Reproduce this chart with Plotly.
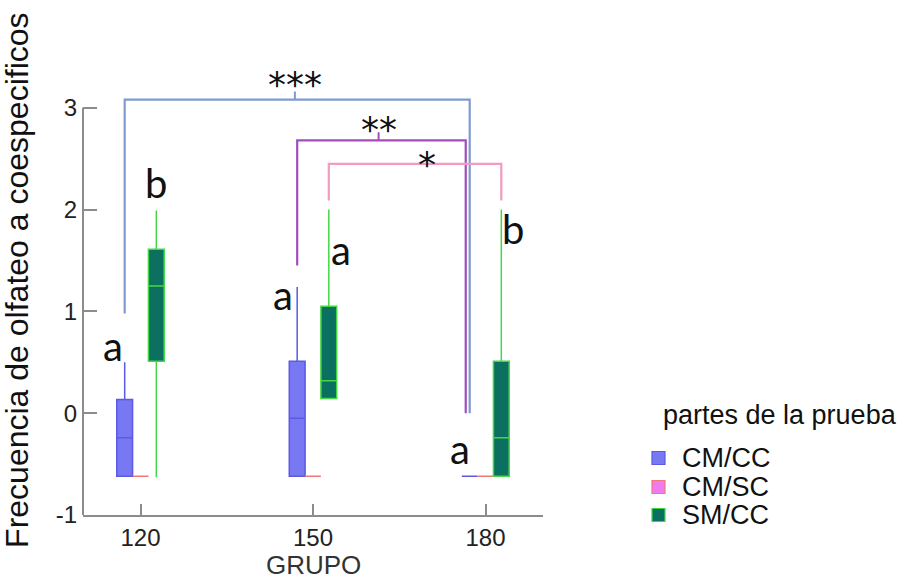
import plotly.graph_objects as go

# Grupos de edad (eje x) y partes de la prueba
grupos = [120, 150, 180]
partes = ["CM/CC", "CM/SC", "SM/CC"]
ticks_y = [-1, 0, 1, 2, 3]
etiquetas_y = ["-1", "0", "1", "2", "3"]

# Estadísticos de cada caja: [120, 150, 180]
cmcc_q1 = [-0.62, -0.62, -0.62]
cmcc_med = [-0.24, -0.05, -0.62]
cmcc_q3 = [0.135, 0.51, -0.62]
cmcc_lo = [-0.62, -0.62, -0.62]
cmcc_hi = [0.50, 1.24, -0.62]

cmsc_q1 = [-0.62, -0.62, -0.62]
cmsc_med = [-0.62, -0.62, -0.62]
cmsc_q3 = [-0.62, -0.62, -0.62]
cmsc_lo = [-0.62, -0.62, -0.62]
cmsc_hi = [-0.62, -0.62, -0.62]

smcc_q1 = [0.51, 0.145, -0.62]
smcc_med = [1.25, 0.32, -0.24]
smcc_q3 = [1.61, 1.05, 0.51]
smcc_lo = [-0.63, 0.145, -0.62]
smcc_hi = [1.99, 2.0, 2.0]

# Letras de significación: (grupo, índice de parte, texto)
letras = [
    (120, 0, "a"), (120, 2, "b"),
    (150, 0, "a"), (150, 2, "a"),
    (180, 0, "a"), (180, 2, "b"),
]
# Colocación de cada letra respecto a su caja (desplazamiento x, altura y)
letras_pos = [(-2.1, 0.66), (0.0, 2.26), (-2.45, 1.16), (2.15, 1.60), (-1.75, -0.35), (1.95, 1.81)]

# Comparaciones: (grupo izq, parte izq, y pata izq, grupo der, parte der, y pata der, y barra, texto, color)
comparaciones = [
    (120, 0, 0.98, 180, 0, 0.0, 3.08, "***", "#7d9bd0"),
    (150, 0, 1.45, 180, -0.25, 0.0, 2.68, "**", "#a24dbb"),
    (150, 2, 2.09, 180, 2, 2.09, 2.45, "*", "#f29ac0"),
]
# Colocación de los asteriscos respecto al centro de la barra (dx, dy)
estrellas_pos = [(-0.4, 0.15), (-0.5, 0.11), (2.1, -0.01)]

colores_relleno = ["#7878f2", "#f07af0", "#0b7060"]
colores_linea = ["#5a5ae6", "#f07878", "#44d844"]

YMIN, YMAX = -1.0, 3.45
XMIN, XMAX = 110, 190
BOXGAP = 0.725
paso = 30 * (1 - BOXGAP) / 3  # ancho de cada hueco dentro del grupo


def xpos(g, k):
    return g + (k - 1) * paso


fig = go.Figure()
stats = [
    (cmcc_q1, cmcc_med, cmcc_q3, cmcc_lo, cmcc_hi),
    (cmsc_q1, cmsc_med, cmsc_q3, cmsc_lo, cmsc_hi),
    (smcc_q1, smcc_med, smcc_q3, smcc_lo, smcc_hi),
]
for i, (q1, med, q3, lo, hi) in enumerate(stats):
    fig.add_trace(go.Box(
        name=partes[i], x=grupos, q1=q1, median=med, q3=q3,
        lowerfence=lo, upperfence=hi,
        fillcolor=colores_relleno[i],
        line=dict(color=colores_linea[i], width=1.5),
        whiskerwidth=0, boxpoints=False, showlegend=False,
    ))

shapes = []
annotations = []

# Eje y dibujado sólo entre -1 y 3
shapes.append(dict(type="line", xref="paper", yref="paper", x0=0, x1=0,
                   y0=0, y1=(3 - YMIN) / (YMAX - YMIN),
                   line=dict(color="#8c8c8c", width=2)))

for (g1, k1, y1, g2, k2, y2, yb, txt, col), (dx, dy) in zip(comparaciones, estrellas_pos):
    xa, xb = xpos(g1, k1), xpos(g2, k2)
    shapes.append(dict(type="path", xref="x", yref="y",
                       path=f"M {xa},{y1} L {xa},{yb} L {xb},{yb} L {xb},{y2}",
                       line=dict(color=col, width=2.2)))
    xm = (xa + xb) / 2
    if len(txt) > 1:
        shapes.append(dict(type="line", xref="x", yref="y", x0=xm + dx, x1=xm + dx,
                           y0=yb, y1=yb + 0.08, line=dict(color=col, width=2)))
    annotations.append(dict(x=xm + dx, y=yb + dy, xref="x", yref="y", text=txt,
                            showarrow=False, xanchor="center", yanchor="middle",
                            font=dict(family="DejaVu Sans", size=36, color="#111")))

for (g, k, t), (dx, y) in zip(letras, letras_pos):
    annotations.append(dict(x=xpos(g, k) + dx, y=y, xref="x", yref="y", text=t,
                            showarrow=False, xanchor="center", yanchor="middle",
                            font=dict(family="Lato", size=40, color="#111")))

# Título del eje y
annotations.append(dict(x=-0.1435, y=0.519, xref="paper", yref="paper",
                        text="Frecuencia de olfateo a coespecificos",
                        textangle=-90, showarrow=False, xanchor="center", yanchor="middle",
                        font=dict(family="Liberation Sans", size=32, color="#111")))

# Título del eje x
annotations.append(dict(x=0.5, y=-50 / 453, xref="paper", yref="paper",
                        text="GRUPO", showarrow=False, xanchor="center", yanchor="middle",
                        font=dict(family="Liberation Sans", size=26, color="#333")))

# Leyenda
px_x = 1.0 / 460
px_y = 1.0 / 453
annotations.append(dict(x=(661 - 83) * px_x, y=(515 - 415) * px_y, xref="paper", yref="paper",
                        text="partes de la prueba", xanchor="left", yanchor="middle",
                        showarrow=False,
                        font=dict(family="Liberation Sans", size=27, color="#111")))
ys_ley = [458, 487, 515]
for i, nombre in enumerate(partes):
    yc = (515 - ys_ley[i]) * px_y
    xs = (652 - 83) * px_x
    shapes.append(dict(type="rect", xref="paper", yref="paper",
                       x0=xs, x1=xs + 13 * px_x, y0=yc - 6.5 * px_y, y1=yc + 6.5 * px_y,
                       fillcolor=colores_relleno[i],
                       line=dict(color=colores_linea[i], width=1.2)))
    annotations.append(dict(x=(680 - 83) * px_x, y=yc, xref="paper", yref="paper",
                            text=nombre, xanchor="left", yanchor="middle", showarrow=False,
                            font=dict(family="Liberation Sans", size=27, color="#111")))

fig.update_layout(
    width=902, height=584,
    margin=dict(l=83, r=359, t=62, b=69, autoexpand=False),
    paper_bgcolor="white", plot_bgcolor="white",
    boxmode="group", boxgap=BOXGAP, boxgroupgap=0,
    shapes=shapes, annotations=annotations,
    font=dict(family="Liberation Sans", color="#222"),
    xaxis=dict(range=[XMIN, XMAX], tickvals=grupos, ticks="inside", ticklen=11,
               tickwidth=2, tickcolor="#8c8c8c", showline=True, linecolor="#8c8c8c",
               linewidth=2, showgrid=False, zeroline=False, automargin=False,
               tickfont=dict(size=24, color="#222")),
    yaxis=dict(range=[YMIN, YMAX], tickvals=ticks_y, ticktext=etiquetas_y, ticks="inside",
               ticklen=14, tickwidth=2, tickcolor="#8c8c8c", showline=False,
               showgrid=False, zeroline=False, ticklabelstandoff=5, automargin=False,
               tickfont=dict(size=24, color="#222")),
)

fig.write_html("out.html")
